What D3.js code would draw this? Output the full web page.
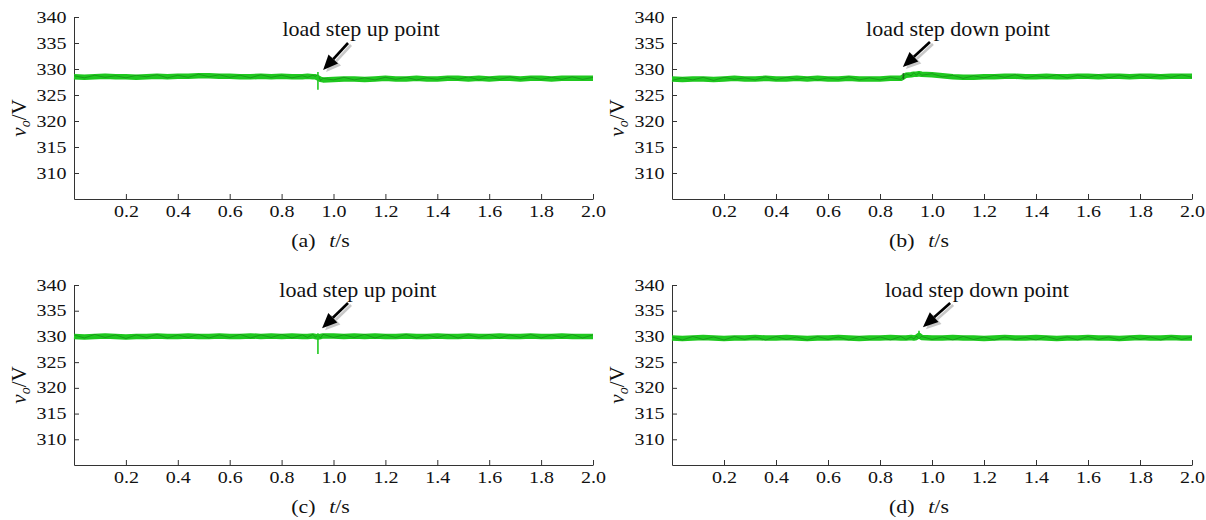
<!DOCTYPE html>
<html>
<head>
<meta charset="utf-8">
<script src="https://d3js.org/d3.v7.min.js"></script>
<style>
  body { margin: 0; background: #fff; }
  svg { display: block; }
  text { font-family: "Liberation Serif", "Times New Roman", serif; fill: #111; }
</style>
</head>
<body>
<svg id="chart" width="1206" height="520"></svg>
<script>
// time grid (s), denser round the load step
const time = [
  0, 0.04, 0.08, 0.12, 0.16, 0.20, 0.24, 0.28, 0.32, 0.36,
  0.40, 0.44, 0.48, 0.52, 0.56, 0.60, 0.64, 0.68, 0.72, 0.76,
  0.80, 0.84, 0.88, 0.90, 0.92, 0.93, 0.94, 0.95, 0.96, 1.00,
  1.04, 1.08, 1.12, 1.16, 1.20, 1.24, 1.28, 1.32, 1.36, 1.40,
  1.44, 1.48, 1.52, 1.56, 1.60, 1.64, 1.68, 1.72, 1.76, 1.80,
  1.84, 1.88, 1.92, 1.96, 2.00
];

const xTicks = [0.2, 0.4, 0.6, 0.8, 1.0, 1.2, 1.4, 1.6, 1.8, 2.0];
const yTicks = [310, 315, 320, 325, 330, 335, 340];

// (a) load step up
const aGreen = [
  328.5, 328.4, 328.5, 328.6, 328.5, 328.5, 328.4, 328.5, 328.6, 328.5,
  328.6, 328.6, 328.7, 328.7, 328.6, 328.6, 328.5, 328.5, 328.6, 328.5,
  328.6, 328.5, 328.5, 328.6, 328.5, 328.5, 328.3, 328.0, 327.9, 328.0,
  328.1, 328.1, 328.0, 328.1, 328.2, 328.1, 328.1, 328.2, 328.1, 328.1,
  328.2, 328.2, 328.1, 328.2, 328.1, 328.2, 328.2, 328.1, 328.2, 328.2,
  328.1, 328.2, 328.2, 328.2, 328.2
];
const aBlack = [
  328.7, 328.3, 328.8, 328.4, 328.7, 328.3, 328.8, 328.5, 328.9, 328.3,
  328.8, 328.4, 329.0, 328.5, 328.9, 328.4, 328.8, 328.3, 328.9, 328.4,
  328.8, 328.3, 328.7, 328.4, 328.8, 328.6, 328.9, 327.8, 328.2, 327.9,
  328.4, 327.9, 328.3, 327.9, 328.4, 328.0, 328.4, 327.9, 328.3, 328.0,
  328.4, 328.0, 328.5, 327.9, 328.4, 328.0, 328.5, 328.0, 328.4, 328.0,
  328.4, 328.0, 328.5, 328.0, 328.4
];

// (b) load step down
const bGreen = [
  328.1, 328.0, 328.1, 328.1, 328.0, 328.1, 328.2, 328.1, 328.1, 328.2,
  328.1, 328.1, 328.2, 328.1, 328.2, 328.1, 328.1, 328.2, 328.1, 328.1,
  328.1, 328.2, 328.2, 328.8, 328.9, 329.0, 329.0, 329.1, 329.0, 328.9,
  328.7, 328.5, 328.4, 328.4, 328.5, 328.5, 328.6, 328.6, 328.5, 328.5,
  328.6, 328.5, 328.5, 328.6, 328.6, 328.5, 328.6, 328.6, 328.5, 328.6,
  328.6, 328.5, 328.6, 328.6, 328.6
];
const bBlack = [
  327.8, 328.3, 327.9, 328.4, 327.8, 328.4, 328.0, 328.3, 327.9, 328.5,
  327.9, 328.4, 328.0, 328.4, 327.9, 328.3, 328.0, 328.5, 327.9, 328.3,
  327.9, 328.4, 328.0, 329.1, 328.7, 329.3, 328.8, 329.3, 328.8, 329.1,
  328.5, 328.8, 328.2, 328.7, 328.3, 328.8, 328.4, 328.9, 328.3, 328.7,
  328.4, 328.9, 328.3, 328.8, 328.4, 328.9, 328.3, 328.8, 328.4, 328.9,
  328.4, 328.8, 328.4, 328.9, 328.4
];

// (c) load step up
const cGreen = [
  330.0, 329.9, 330.0, 330.1, 330.0, 329.9, 330.0, 330.0, 330.1, 330.0,
  330.0, 330.1, 330.0, 330.0, 330.1, 330.0, 330.0, 330.1, 330.0, 330.1,
  330.0, 330.1, 330.0, 330.0, 330.1, 330.0, 329.9, 330.0, 330.1, 330.1,
  330.0, 330.1, 330.0, 330.1, 330.0, 330.0, 330.1, 330.0, 330.0, 330.1,
  330.0, 330.0, 330.1, 330.0, 330.0, 330.1, 330.0, 330.0, 330.1, 330.0,
  330.0, 330.1, 330.0, 330.0, 330.0
];
const cBlack = [
  330.3, 329.7, 330.4, 329.8, 330.3, 329.6, 330.3, 329.8, 330.4, 329.7,
  330.3, 329.8, 330.4, 329.7, 330.3, 329.8, 330.4, 329.7, 330.3, 329.8,
  330.4, 329.7, 330.3, 329.8, 330.4, 329.9, 330.2, 329.7, 330.4, 329.8,
  330.3, 329.8, 330.4, 329.7, 330.3, 329.8, 330.4, 329.7, 330.3, 329.8,
  330.4, 329.7, 330.3, 329.8, 330.4, 329.7, 330.3, 329.8, 330.4, 329.7,
  330.3, 329.8, 330.4, 329.7, 330.3
];

// (d) load step down
const dGreen = [
  329.7, 329.6, 329.7, 329.8, 329.7, 329.6, 329.7, 329.7, 329.8, 329.7,
  329.7, 329.8, 329.7, 329.6, 329.7, 329.7, 329.8, 329.7, 329.6, 329.7,
  329.7, 329.8, 329.7, 329.7, 329.8, 329.7, 329.8, 330.2, 329.8, 329.7,
  329.7, 329.8, 329.7, 329.7, 329.6, 329.7, 329.8, 329.7, 329.7, 329.8,
  329.7, 329.6, 329.7, 329.7, 329.8, 329.7, 329.7, 329.6, 329.7, 329.8,
  329.7, 329.7, 329.8, 329.7, 329.7
];
const dBlack = [
  329.9, 329.3, 330.0, 329.4, 329.9, 329.3, 330.0, 329.4, 329.9, 329.3,
  330.0, 329.4, 329.9, 329.3, 330.0, 329.4, 329.9, 329.3, 330.0, 329.4,
  329.9, 329.3, 330.0, 329.4, 329.9, 329.5, 330.1, 329.5, 330.0, 329.4,
  329.9, 329.3, 330.0, 329.4, 329.9, 329.3, 329.9, 329.4, 329.8, 329.3,
  330.0, 329.4, 329.9, 329.3, 330.0, 329.4, 329.9, 329.3, 330.0, 329.4,
  329.9, 329.3, 330.0, 329.4, 329.9
];

// transient spikes: [t, low, high]
const aSpike = [0.94, 326.0, 329.4];
const bSpike = [0.89, 328.0, 329.2];
const cSpike = [0.94, 326.6, 330.6];
const dSpike = [0.95, 329.6, 331.1];

const panelNames = ["(a)", "(b)", "(c)", "(d)"];
const noteTexts = ["load step up point", "load step down point", "load step up point", "load step down point"];
// arrow tip, arrow tail, text anchor (t, V)
const noteTips = [[0.96, 329.8], [0.888, 330.4], [0.956, 331.6], [0.965, 331.8]];
const noteTails = [[1.056, 335.0], [0.992, 335.2], [1.056, 336.5], [1.07, 336.5]];
const noteAt = [[1.106, 336.3], [1.10, 336.3], [1.094, 337.7], [1.173, 337.7]];

const greens = [aGreen, bGreen, cGreen, dGreen];
const blacks = [aBlack, bBlack, cBlack, dBlack];
const spikes = [aSpike, bSpike, cSpike, dSpike];

// panel frames
const frames = [
  { left: 74, right: 593, top: 17, bottom: 199 },
  { left: 672, right: 1192, top: 17, bottom: 199 },
  { left: 74, right: 593, top: 285, bottom: 465 },
  { left: 672, right: 1192, top: 285, bottom: 465 }
];

const svg = d3.select("#chart");
const green = "#1fc81f";

frames.forEach(function (f, i) {
  const x = d3.scaleLinear().domain([0, 2]).range([f.left, f.right]);
  const y = d3.scaleLinear().domain([305, 340]).range([f.bottom, f.top]);
  const g = svg.append("g");

  // axes, ticks pointing inward
  g.append("g")
    .attr("transform", "translate(0," + f.bottom + ")")
    .call(d3.axisBottom(x).tickValues(xTicks).tickFormat(d3.format(".1f"))
      .tickSize(-5).tickSizeOuter(0).tickPadding(7))
    .call(a => a.selectAll("path,line").attr("stroke", "#333"))
    .call(a => a.selectAll("text")
      .style("font-size", "16px")
      .attr("transform", "scale(1.25,1)"));

  g.append("g")
    .attr("transform", "translate(" + f.left + ",0)")
    .call(d3.axisLeft(y).tickValues(yTicks).tickSize(-5).tickSizeOuter(0).tickPadding(6))
    .call(a => a.selectAll("path,line").attr("stroke", "#333"))
    .call(a => a.selectAll("text")
      .style("font-size", "16px")
      .attr("transform", "scale(1.25,1)"));

  // traces
  const line = d3.line().x((d, k) => x(time[k])).y(d => y(d));
  g.append("path").datum(greens[i])
    .attr("d", line)
    .attr("fill", "none")
    .attr("stroke", green)
    .attr("stroke-width", 5.5)
    .attr("stroke-linejoin", "round");
  g.append("path").datum(blacks[i])
    .attr("d", line)
    .attr("fill", "none")
    .attr("stroke", "#0f3a0f")
    .attr("stroke-width", 0.6)
    .attr("opacity", 0.5);

  const s = spikes[i];
  g.append("line")
    .attr("x1", x(s[0])).attr("x2", x(s[0]))
    .attr("y1", y(s[1])).attr("y2", y(s[2]))
    .attr("stroke", i == 1 ? "#1a6a1a" : green)
    .attr("stroke-width", 1.6);

  // annotation arrow with a soft shadow
  const tip = [x(noteTips[i][0]), y(noteTips[i][1])];
  const tail = [x(noteTails[i][0]), y(noteTails[i][1])];
  const ang = Math.atan2(tip[1] - tail[1], tip[0] - tail[0]);
  const headLen = 15, headW = 6.5;
  const base = [tip[0] - headLen * Math.cos(ang), tip[1] - headLen * Math.sin(ang)];
  const nx = -Math.sin(ang), ny = Math.cos(ang);
  const head = [tip,
    [base[0] + nx * headW, base[1] + ny * headW],
    [base[0] - nx * headW, base[1] - ny * headW]];

  const arrow = g.append("g");
  [["#c8c8c8", 3, 2], ["#000", 0, 0]].forEach(function (st) {
    const a = arrow.append("g").attr("transform", "translate(" + st[1] + "," + st[2] + ")");
    a.append("line")
      .attr("x1", tail[0]).attr("y1", tail[1])
      .attr("x2", base[0]).attr("y2", base[1])
      .attr("stroke", st[0]).attr("stroke-width", 2.6);
    a.append("polygon")
      .attr("points", head.map(p => p.join(",")).join(" "))
      .attr("fill", st[0]);
  });

  g.append("text")
    .attr("x", x(noteAt[i][0]))
    .attr("y", y(noteAt[i][1]))
    .attr("text-anchor", "middle")
    .style("font-size", "22px")
    .text(noteTexts[i]);

  // y title
  const yt = g.append("text")
    .attr("transform", "translate(" + (f.left - 48) + "," + ((f.top + f.bottom) / 2 + 10) + ") rotate(-90)")
    .attr("text-anchor", "middle")
    .style("font-size", "21px");
  yt.append("tspan").style("font-style", "italic").text("v");
  yt.append("tspan").style("font-style", "italic").style("font-size", "14px")
    .attr("dy", 4).text("o");
  yt.append("tspan").attr("dy", -4).text("/V");

  // panel caption
  const cap = g.append("text")
    .attr("transform", "translate(" + x(0.95) + "," + (f.bottom + 48) + ") scale(1.15,1)")
    .attr("text-anchor", "middle")
    .style("font-size", "19px");
  cap.append("tspan").text(panelNames[i]);
  cap.append("tspan").attr("dx", 12).style("font-style", "italic").text("t");
  cap.append("tspan").text("/s");
});
</script>
</body>
</html>
